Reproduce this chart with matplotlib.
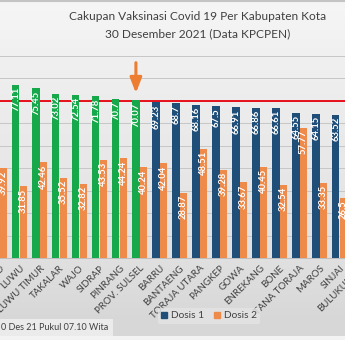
import numpy as np
import matplotlib
matplotlib.use("Agg")
import matplotlib.pyplot as plt
from matplotlib.patches import Patch, Rectangle

plt.rcParams['font.family'] = ['Lato', 'DejaVu Sans']

# data (sorted by Dosis 1, picture is a crop of a wider chart)
daerah = ["PALOPO", "LUWU", "LUWU TIMUR", "TAKALAR", "WAJO", "SIDRAP", "PINRANG",
          "PROV. SULSEL", "BARRU", "BANTAENG", "TORAJA UTARA", "PANGKEP", "GOWA",
          "ENREKANG", "BONE", "TANA TORAJA", "MAROS", "SINJAI", "BULUKUMBA"]
dosis1 = [78.5, 77.11, 75.45, 73.02, 72.54, 71.78, 70.7, 70.07, 69.23, 68.7,
          68.16, 67.5, 66.91, 66.86, 66.61, 64.55, 64.15, 63.52, 63.0]
dosis2 = [39.92, 31.85, 42.46, 35.52, 32.82, 43.53, 44.24, 40.24, 42.04, 28.87,
          48.51, 39.28, 33.67, 40.45, 32.54, 57.77, 33.35, 26.5, 40.0]
target = 70

GREEN = '#17A84B'
NAVY = '#1F4E79'
ORANGE = '#EE8A4A'
W, H = 345, 340

fig = plt.figure(figsize=(W / 100, H / 100), dpi=100)

# background gradient like the excel chart area
bg = fig.add_axes([0, 0, 1, 1], zorder=-5)
rows = np.arange(H)
shade = np.interp(rows, [0, 60, 258, 318], [0.965, 0.94, 0.88, 0.845])
shade[rows >= 336] = 0.955
img = np.repeat(shade[:, None, None], 3, axis=2)
bg.imshow(img, aspect='auto', extent=[0, W, H, 0])
bg.set_xlim(0, W)
bg.set_ylim(H, 0)
bg.axis('off')
bg.add_patch(Rectangle((0, 319), 113, 17, facecolor='#ebebeb', edgecolor='none'))
bg.plot([0, W], [1, 1], color='#c4c4c4', lw=1.5)

# main axes, wider than the figure so edges get cut like the crop
x0, x1 = -0.6, 18.6
left_px = 20 * x0 - 0.3
right_px = 20 * x1 - 0.3
ax = fig.add_axes([left_px / W, (H - 258) / H, (right_px - left_px) / W, (258 - 55.5) / H])
ax.set_facecolor('none')

x = np.arange(len(daerah))
bw = 0.36
c1 = [GREEN if v >= target else NAVY for v in dosis1]
ax.bar(x - 0.19, dosis1, bw, color=c1, zorder=3)
ax.bar(x + 0.19, dosis2, bw, color=ORANGE, zorder=3)

for xi, v in zip(x - 0.19, dosis1):
    ax.annotate(f"{v:g}", (xi, v), xytext=(0, -1.5), textcoords='offset points',
                rotation=90, ha='center', va='top', color='white',
                fontsize=6.8, fontweight='bold', zorder=4)
for xi, v in zip(x + 0.19, dosis2):
    ax.annotate(f"{v:g}", (xi, v), xytext=(0, -1.5), textcoords='offset points',
                rotation=90, ha='center', va='top', color='white',
                fontsize=6.8, fontweight='bold', zorder=4)

ax.axhline(target, color='#E8000B', lw=1.3, zorder=2)

# arrow pointing at the province bar
px = daerah.index("PROV. SULSEL") - 0.19
ax.annotate('', xy=(px, 73.3), xytext=(px, 86.8),
            arrowprops=dict(arrowstyle='-|>,head_length=0.9,head_width=0.35',
                            color='#ED7D31', lw=2.2, mutation_scale=10,
                            shrinkA=0, shrinkB=0), zorder=5)

ax.set_xlim(x0, x1)
ax.set_ylim(0, 90)
ax.set_yticks(np.arange(0, 91, 10))
ax.yaxis.grid(True, color='#c6c6c6', lw=0.7)
ax.set_axisbelow(True)
ax.tick_params(axis='y', length=0, labelleft=False)
ax.set_xticks(x)
ax.set_xticklabels(daerah, rotation=45, ha='right', rotation_mode='anchor',
                   fontsize=7, color='#404040')
ax.tick_params(axis='x', length=0, pad=4)
for s in ['top', 'left', 'right']:
    ax.spines[s].set_visible(False)
ax.spines['bottom'].set_color('#bdbdbd')
ax.spines['bottom'].set_linewidth(0.8)

fig.text(198 / W, 1 - 17 / H, "Cakupan Vaksinasi Covid 19 Per Kabupaten Kota",
         ha='center', va='center', fontsize=8.6, color='#404040')
fig.text(198 / W, 1 - 34 / H, "30 Desember 2021 (Data KPCPEN)",
         ha='center', va='center', fontsize=8.6, color='#404040')

leg = fig.legend(handles=[Patch(color=NAVY, label='Dosis 1'),
                          Patch(color=ORANGE, label='Dosis 2')],
                 loc='center', bbox_to_anchor=(209 / W, 1 - 316 / H), ncol=2,
                 fontsize=7.3, frameon=True, handlelength=0.6, handleheight=0.6,
                 handletextpad=0.4, columnspacing=0.9, borderpad=0.3)
leg.get_frame().set_facecolor('#e4e4e4')
leg.get_frame().set_edgecolor('none')
for t in leg.get_texts():
    t.set_color('#404040')

fig.text(1 / W, 1 - 327 / H, "0 Des 21 Pukul 07.10 Wita", ha='left', va='center',
         fontsize=6.5, color='#404040')

fig.savefig('out.png', dpi=100)
